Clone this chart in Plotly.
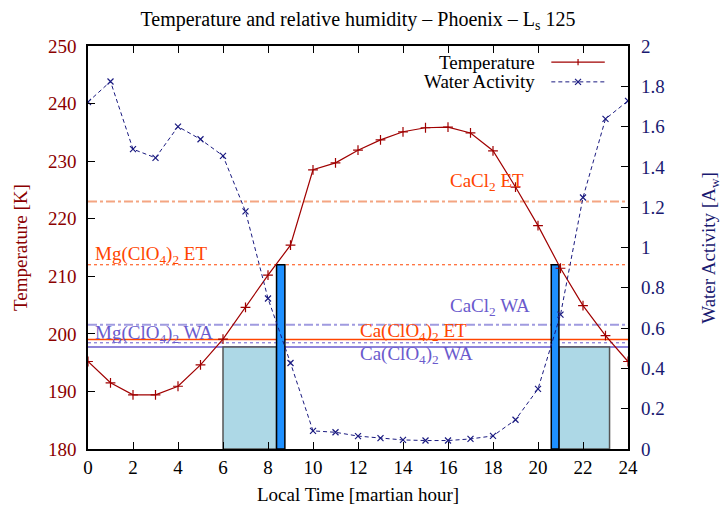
import plotly.graph_objects as go

# ---------------- data ----------------
hours = list(range(25))
temperature = [195.2, 191.5, 189.4, 189.4, 190.9, 194.6, 199.1, 204.6, 210.2, 215.4,
               228.5, 229.7, 231.9, 233.7, 235.1, 235.8, 235.9, 234.9, 231.8,
               225.5, 218.8, 211.4, 204.9, 199.7, 195.2]
water_activity = [1.722, 1.824, 1.488, 1.445, 1.600, 1.537, 1.455, 1.179, 0.747, 0.427,
                  0.090, 0.083, 0.064, 0.054, 0.045, 0.042, 0.042, 0.050, 0.065,
                  0.145, 0.298, 0.667, 1.248, 1.638, 1.728]

# thresholds: eutectic temperatures [K] and water activities
et_names = ["CaCl<sub>2</sub> ET", "Mg(ClO<sub>4</sub>)<sub>2</sub> ET", "Ca(ClO<sub>4</sub>)<sub>2</sub> ET"]
et_values = [223.0, 212.0, 199.0]
wa_names = ["CaCl<sub>2</sub> WA", "Mg(ClO<sub>4</sub>)<sub>2</sub> WA", "Ca(ClO<sub>4</sub>)<sub>2</sub> WA"]
wa_values = [0.617, 0.527, 0.506]

# label anchor positions (hour, temperature)
et_label_x = [16.0, 0.2, 12.0]
et_label_y = [226.4, 213.7, 200.4]
wa_label_x = [16.0, 0.2, 12.0]
wa_label_y = [204.7, 200.0, 196.3]

# liquid-possible windows (hours)
light_windows = [(6.0, 8.38), (20.93, 23.18)]
dark_windows = [(8.38, 8.75), (20.59, 20.93)]

# ---------------- styles ----------------
FONT = "Liberation Serif"
RED = "#8b0000"
NAVY = "#191970"
ORANGE = "#ff4500"
SALMON = "#f4a582"
PURPLE = "#6a5acd"
LAVENDER = "#a09be0"
WA_DASH = "4px,3px"
et_styles = [dict(color=SALMON, width=2, dash="dashdot"),
             dict(color=ORANGE, width=1, dash="dot"),
             dict(color=ORANGE, width=1.5, dash="solid")]
wa_styles = [dict(color=LAVENDER, width=2, dash="dashdot"),
             dict(color=PURPLE, width=1, dash="dot"),
             dict(color=PURPLE, width=1.5, dash="solid")]

fig = go.Figure()

fig.add_trace(go.Scatter(
    x=hours, y=temperature, mode="lines+markers", name="Temperature",
    line=dict(color="#a00000", width=1.2),
    marker=dict(symbol="cross-thin", size=7, line=dict(color="#a00000", width=1.2)),
    yaxis="y", showlegend=False))
fig.add_trace(go.Scatter(
    x=hours, y=water_activity, mode="lines+markers", name="Water Activity",
    line=dict(color="#1a1a80", width=1, dash=WA_DASH),
    marker=dict(symbol="x-thin", size=6, line=dict(color="#1a1a80", width=1.2)),
    yaxis="y2", showlegend=False))

shapes = []
for x0, x1 in light_windows:
    shapes.append(dict(type="rect", xref="x", yref="y2", x0=x0, x1=x1, y0=0, y1=wa_values[2],
                       fillcolor="#add8e6", line=dict(color="#555555", width=1.5), layer="below"))
for x0, x1 in dark_windows:
    shapes.append(dict(type="rect", xref="x", yref="y", x0=x0, x1=x1, y0=180, y1=et_values[1],
                       fillcolor="#1e90ff", line=dict(color="black", width=1.5), layer="below"))
for v, st in zip(et_values, et_styles):
    shapes.append(dict(type="line", xref="paper", yref="y", x0=0, x1=1, y0=v, y1=v,
                       line=st, layer="below"))
for v, st in zip(wa_values, wa_styles):
    shapes.append(dict(type="line", xref="paper", yref="y2", x0=0, x1=1, y0=v, y1=v,
                       line=st, layer="below"))

annotations = []
for n, x, y in zip(et_names, et_label_x, et_label_y):
    annotations.append(dict(text=n, x=x, y=y, xref="x", yref="y", xanchor="left", yanchor="middle",
                            showarrow=False, font=dict(family=FONT, size=19, color=ORANGE)))
for n, x, y in zip(wa_names, wa_label_x, wa_label_y):
    annotations.append(dict(text=n, x=x, y=y, xref="x", yref="y", xanchor="left", yanchor="middle",
                            showarrow=False, font=dict(family=FONT, size=19, color=PURPLE)))

# manual gnuplot-style legend (text right, sample on its right)
leg_items = [("Temperature", dict(color="#a00000", width=1.2, dash="solid"), 0.960, "+"),
             ("Water Activity", dict(color="#1a1a80", width=1, dash=WA_DASH), 0.911, "x")]
for txt, st, yy, sym in leg_items:
    annotations.append(dict(text=txt, x=0.831, y=yy, xref="paper", yref="paper", xanchor="right",
                            yanchor="middle", showarrow=False,
                            font=dict(family=FONT, size=19, color="black")))
    shapes.append(dict(type="line", xref="paper", yref="paper", x0=0.858, x1=0.957, y0=yy, y1=yy,
                       line=st))
    cx, dx, dy = 0.9075, 0.0055, 0.0075
    if sym == "+":
        shapes.append(dict(type="line", xref="paper", yref="paper", x0=cx, x1=cx, y0=yy - dy, y1=yy + dy,
                           line=dict(color=st["color"], width=1.2)))
    else:
        shapes.append(dict(type="line", xref="paper", yref="paper", x0=cx - dx, x1=cx + dx,
                           y0=yy - dy, y1=yy + dy, line=dict(color=st["color"], width=1.2)))
        shapes.append(dict(type="line", xref="paper", yref="paper", x0=cx - dx, x1=cx + dx,
                           y0=yy + dy, y1=yy - dy, line=dict(color=st["color"], width=1.2)))

# axis titles
annotations.append(dict(text="Local Time [martian hour]", x=0.5, y=-0.112, xref="paper", yref="paper",
                        xanchor="center", yanchor="middle", showarrow=False,
                        font=dict(family=FONT, size=19, color="black")))
annotations.append(dict(text="Temperature [K]", x=-0.125, y=0.5, xref="paper", yref="paper",
                        xanchor="center", yanchor="middle", showarrow=False, textangle=-90,
                        font=dict(family=FONT, size=19, color=RED)))
annotations.append(dict(text="Water Activity [A<sub>w</sub>]", x=1.1505, y=0.5, xref="paper", yref="paper",
                        xanchor="center", yanchor="middle", showarrow=False, textangle=-90,
                        font=dict(family=FONT, size=19, color=NAVY)))

fig.update_layout(
    width=724, height=515,
    margin=dict(l=88, r=95.5, t=46, b=66),
    paper_bgcolor="white", plot_bgcolor="white",
    font=dict(family=FONT, size=19),
    title=dict(text="Temperature and relative humidity \u2013 Phoenix \u2013 L<sub>s</sub> 125",
               x=0.4945, xanchor="center", y=0.963, yanchor="middle", yref="container",
               font=dict(family=FONT, size=20, color="black")),
    xaxis=dict(range=[0, 24], dtick=2, tick0=0, showgrid=False, zeroline=False,
               showline=True, linecolor="black", linewidth=1.5, mirror="ticks",
               ticks="inside", ticklen=7, tickcolor="black",
               tickfont=dict(family=FONT, size=19, color="black")),
    yaxis=dict(range=[180, 250], dtick=10, showgrid=False, zeroline=False,
               showline=True, linecolor="black", linewidth=1.5, mirror=True,
               ticks="inside", ticklen=7, tickcolor="black",
               tickfont=dict(family=FONT, size=19, color=RED), ticklabelstandoff=6),
    yaxis2=dict(range=[0, 2], dtick=0.2, overlaying="y", side="right", showgrid=False,
                zeroline=False, showline=False, ticks="inside", ticklen=7, tickcolor="black",
                tickfont=dict(family=FONT, size=19, color=NAVY), ticklabelstandoff=12),
    shapes=shapes, annotations=annotations,
)

fig.write_html("out.html")
